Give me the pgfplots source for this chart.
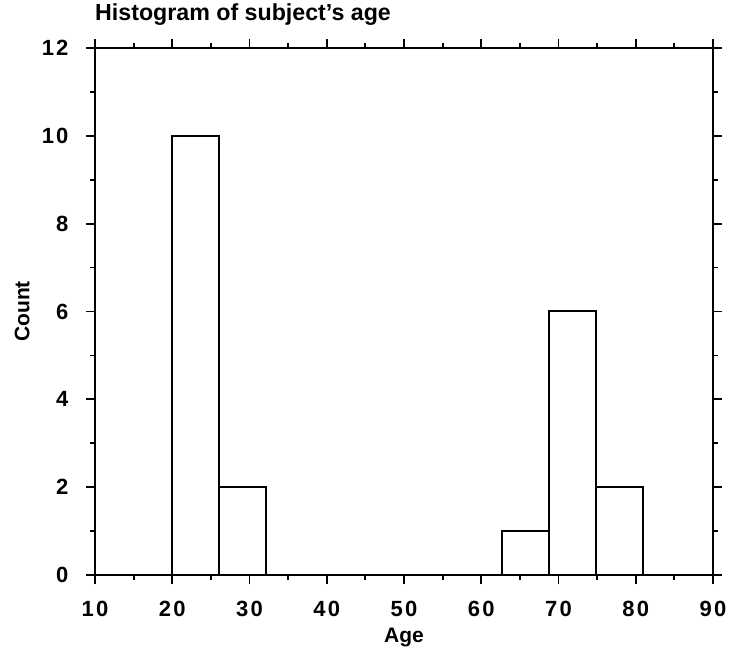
\documentclass[border=0pt]{standalone}
\usepackage{fontspec}
\setmainfont{Liberation Sans}
\usepackage{pgfplots}
\pgfplotsset{compat=1.18}
\begin{document}
\begin{tikzpicture}
\begin{axis}[name=ax, scale only axis, width=618pt, height=527pt,
 xmin=10, xmax=90, ymin=0, ymax=12,
 xtick={10,20,...,90}, ytick={0,2,...,12},
 minor x tick num=1, minor y tick num=1,
 tick align=outside,
 major tick length=9pt, minor tick length=5pt,
 axis line style={line width=2.2pt},
 every tick/.style={black, line width=1.8pt},
 /pgf/number format/assume math mode=true,
 ticklabel style={font=\bfseries\fontsize{22}{26}\selectfont\addfontfeature{LetterSpace=10}},
 xticklabel style={yshift=-14pt},
 yticklabel style={xshift=-14pt},
 title={Histogram of subject's age},
 title style={at={(0,1.0417)}, anchor=base west, yshift=0pt, inner sep=0pt, font=\bfseries\fontsize{23.2}{27}\selectfont},
 xlabel={Age}, ylabel={Count},
 label style={font=\bfseries\fontsize{21}{24}\selectfont},
 xlabel style={at={(0.5,-0.119)}, anchor=center},
 ylabel style={at={(-0.118,0.5)}, anchor=center},
]
\addplot[ybar interval, draw=black, fill=white, line width=2pt] coordinates {(20,10) (26.1,2) (32.2,2)};
\addplot[ybar interval, draw=black, fill=white, line width=2pt] coordinates {(62.7,1) (68.8,6) (74.9,2) (81.0,2)};
\end{axis}
\pgfresetboundingbox
\path[use as bounding box] ([xshift=-95pt,yshift=-83pt]ax.south west) rectangle ([xshift=19pt,yshift=48pt]ax.north east);
\end{tikzpicture}
\end{document}
